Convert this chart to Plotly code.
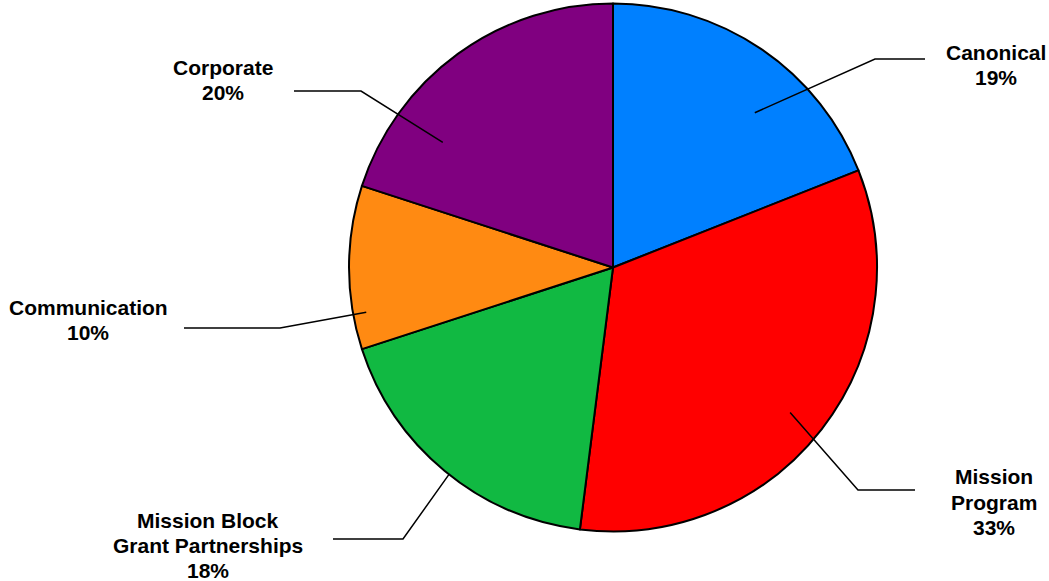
import math
import plotly.graph_objects as go

# ---- data ----
categories = ["Canonical", "Mission<br>Program", "Mission Block<br>Grant Partnerships", "Communication", "Corporate"]
values = [19, 33, 18, 10, 20]
colors = ["#0080FF", "#FF0000", "#11B942", "#FF8A12", "#800080"]

# ---- layout constants (pixels) ----
W, H = 1049, 581
CX, CY, R = 613, 267.5, 264
LINE_PITCH = 25
FONT_SIZE = 21

# per-label leader layout: angle nudge (deg), start radius fraction, elbow (px), end x (px), label centre (px)
leader_nudge = [8.3, 1.5, -1.2, -10.3, -17.7]
leader_frac = [0.795, 0.867, 1.0, 0.95, 0.80]
elbows = [(875, 59), (858, 490), (403, 539), (280, 328), (361, 91)]
end_x = [925, 915, 333, 184, 294]
label_pos = [(996, 65), (994, 502), (208, 545), (88, 320), (223, 80)]


def px(x):
    return x / W


def py(y):
    return 1 - y / H


fig = go.Figure()
fig.add_trace(go.Pie(
    labels=categories,
    values=values,
    marker=dict(colors=colors, line=dict(color="#000000", width=2)),
    sort=False,
    direction="clockwise",
    rotation=0,
    textinfo="none",
    hoverinfo="label+percent",
    domain=dict(x=[px(CX - R), px(CX + R)], y=[py(CY + R), py(CY - R)]),
    showlegend=False,
))

total = sum(values)
cum = 0
shapes = []
annotations = []
for i, v in enumerate(values):
    mid = (cum + v / 2) / total * 360
    cum += v
    th = math.radians(mid + leader_nudge[i])
    sx = CX + R * leader_frac[i] * math.sin(th)
    sy = CY - R * leader_frac[i] * math.cos(th)
    ex, ey = elbows[i]
    path = f"M {px(sx)},{py(sy)} L {px(ex)},{py(ey)} L {px(end_x[i])},{py(ey)}"
    shapes.append(dict(type="path", xref="paper", yref="paper", path=path,
                       line=dict(color="#000000", width=1.5)))
    pct = round(v / total * 100)
    lines = categories[i].split("<br>") + [f"{pct}%"]
    lx, ly = label_pos[i]
    n = len(lines)
    for k, t in enumerate(lines):
        yk = ly + (k - (n - 1) / 2) * LINE_PITCH
        annotations.append(dict(
            x=px(lx), y=py(yk), xref="paper", yref="paper",
            text=f"<b>{t}</b>",
            showarrow=False, xanchor="center", yanchor="middle", align="center",
            font=dict(family="Arial, Liberation Sans, sans-serif", size=FONT_SIZE, color="#000000"),
        ))

fig.update_layout(
    width=W, height=H,
    margin=dict(l=0, r=0, t=0, b=0),
    paper_bgcolor="#FFFFFF",
    plot_bgcolor="#FFFFFF",
    shapes=shapes,
    annotations=annotations,
)

fig.write_html("out.html", config={"displayModeBar": False},
               post_script="document.body.style.margin='0';document.body.style.padding='0';")
